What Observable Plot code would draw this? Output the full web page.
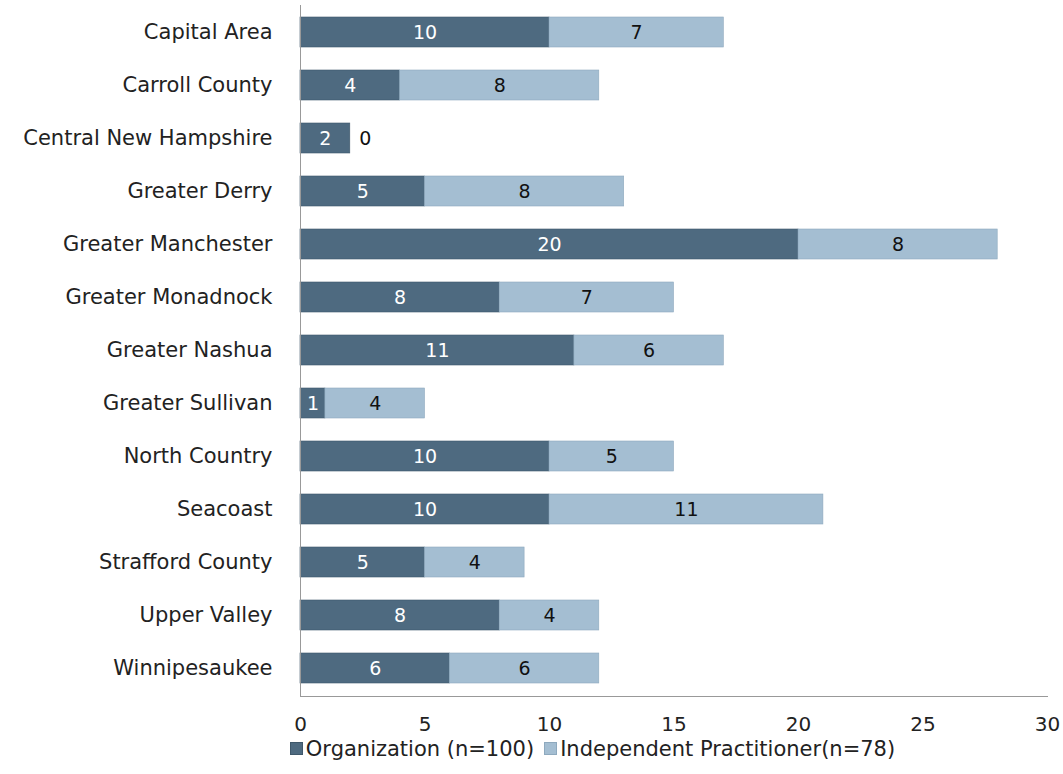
<!DOCTYPE html>
<html><head><meta charset="utf-8">
<script src="https://cdn.jsdelivr.net/npm/d3@7"></script>
<script src="https://cdn.jsdelivr.net/npm/@observablehq/plot@0.6"></script>
<style>
body{margin:0;background:#fff;font-family:"DejaVu Sans",sans-serif;}
#legend{display:flex;justify-content:center;gap:10px;font-size:21px;color:#222;margin-left:122px;margin-top:-3px}
#legend span.sw{display:inline-block;width:11px;height:11px;margin-right:3px;vertical-align:middle;position:relative;top:-2px}
</style></head>
<body><div id="chart"></div><div id="legend"></div>
<script>
const regions = ["Capital Area","Carroll County","Central New Hampshire","Greater Derry","Greater Manchester","Greater Monadnock","Greater Nashua","Greater Sullivan","North Country","Seacoast","Strafford County","Upper Valley","Winnipesaukee"];
const organization = [10,4,2,5,20,8,11,1,10,10,5,8,6];
const independent = [7,8,0,8,8,7,6,4,5,11,4,4,6];
const seriesNames = ["Organization (n=100)","Independent Practitioner(n=78)"];
const colors = ["#4e6a80","#a4bed2"];
const xTicks = [0,5,10,15,20,25,30];

const data = [];
regions.forEach((r,i)=>{
  data.push({region:r, series:seriesNames[0], value:organization[i], x1:0, x2:organization[i]});
  data.push({region:r, series:seriesNames[1], value:independent[i], x1:organization[i], x2:organization[i]+independent[i]});
});

const chart = Plot.plot({
  width:1063, height:740,
  marginLeft:300, marginRight:16, marginTop:5, marginBottom:44,
  style:{fontFamily:"DejaVu Sans, sans-serif", fontSize:"18px", color:"#222"},
  x:{domain:[0,30], ticks:xTicks, label:null},
  y:{domain:regions, label:null, paddingInner:0.43, paddingOuter:0.22},
  color:{domain:seriesNames, range:colors},
  marks:[
    Plot.barX(data,{y:"region", x1:"x1", x2:"x2", fill:"series", stroke:d=>d.series===seriesNames[0]?"#3f586b":"#8ea9be", strokeWidth:0.6}),
    Plot.text(data.filter(d=>d.value>0),{y:"region", x:d=>(d.x1+d.x2)/2, text:d=>String(d.value), fill:d=>d.series===seriesNames[0]?"#fff":"#111", fontSize:19}),
    Plot.text(data.filter(d=>d.value===0),{y:"region", x:"x2", text:d=>String(d.value), fill:"#111", fontSize:19, dx:15}),
    Plot.axisY({tickSize:0, tickPadding:28, fontSize:21}),
    Plot.axisX({ticks:xTicks, tickSize:0, tickPadding:20, fontSize:20}),
    Plot.ruleX([0],{stroke:"#999"}),
    Plot.frame({anchor:"bottom", stroke:"#999"})
  ]
});
document.getElementById("chart").append(chart);

const leg = document.getElementById("legend");
seriesNames.forEach((s,i)=>{
  const d = document.createElement("div");
  d.innerHTML = `<span class="sw" style="background:${colors[i]};border:1px solid ${i?"#8ea9be":"#3f586b"}"></span>${s}`;
  leg.append(d);
});
</script></body></html>
